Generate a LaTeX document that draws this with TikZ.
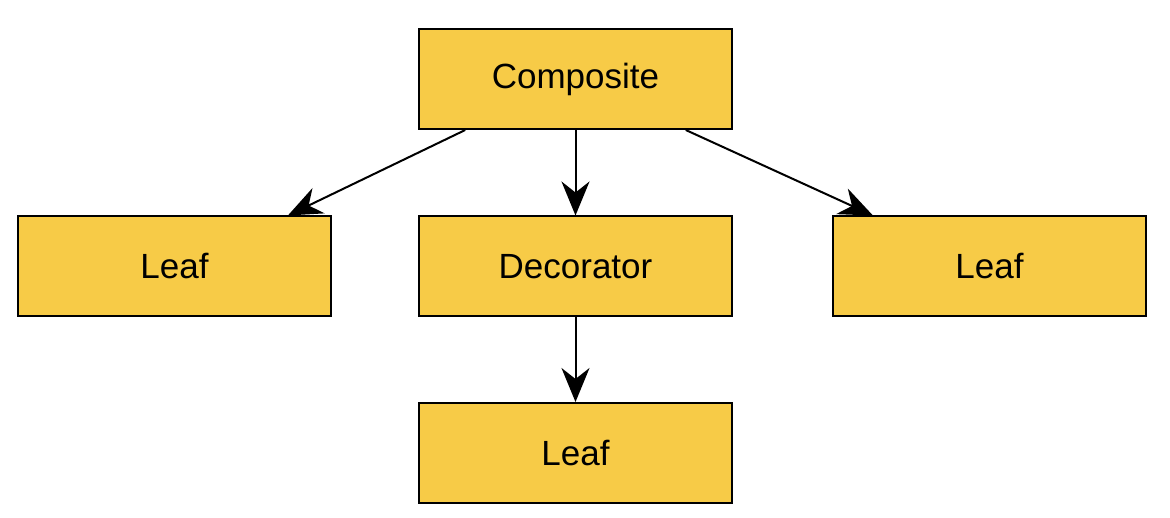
\documentclass[tikz,border=0pt]{standalone}
\usepackage{fontspec}
\setmainfont{Liberation Sans}
\usepackage{xcolor}
\usetikzlibrary{positioning}
\usetikzlibrary{calc}
\usetikzlibrary{arrows.meta}
\definecolor{boxyellow}{HTML}{F7CB47}
\tikzset{box/.style = {draw, fill = boxyellow, line width = 2pt, minimum width = 313pt, minimum height = 100pt, inner sep = 0, font = \fontsize{35}{42}\selectfont}}
\tikzset{link/.style = {line width = 2pt, -{Stealth[length = 34pt, width = 28pt, inset = 11pt]}}}

\begin{document}
\begin{tikzpicture}[x = 1pt, y = -1pt]
    \useasboundingbox (0,0) rectangle (1170,518);
    \node[box] (comp) at (575.5,79) {Composite};
    \node[box] (leafl) at (174.5,266.5) {Leaf};
    \node[box] (deco) at (575.5,266.5) {Decorator};
    \node[box] (leafr) at (989.5,266.5) {Leaf};
    \node[box] (leafb) at (575.5,453) {Leaf};
    \coordinate (cl) at ($(comp.south west)!0.15!(comp.south east)$);
    \coordinate (cr) at ($(comp.south west)!0.85!(comp.south east)$);
    \coordinate (ll) at ($(leafl.north west)!0.86!(leafl.north east)$);
    \coordinate (lr) at ($(leafr.north west)!0.13!(leafr.north east)$);
    \draw[link] (cl) -- (ll);
    \draw[link] (comp) -- (deco);
    \draw[link] (cr) -- (lr);
    \draw[link] (deco) -- (leafb);
  \end{tikzpicture}
\end{document}
